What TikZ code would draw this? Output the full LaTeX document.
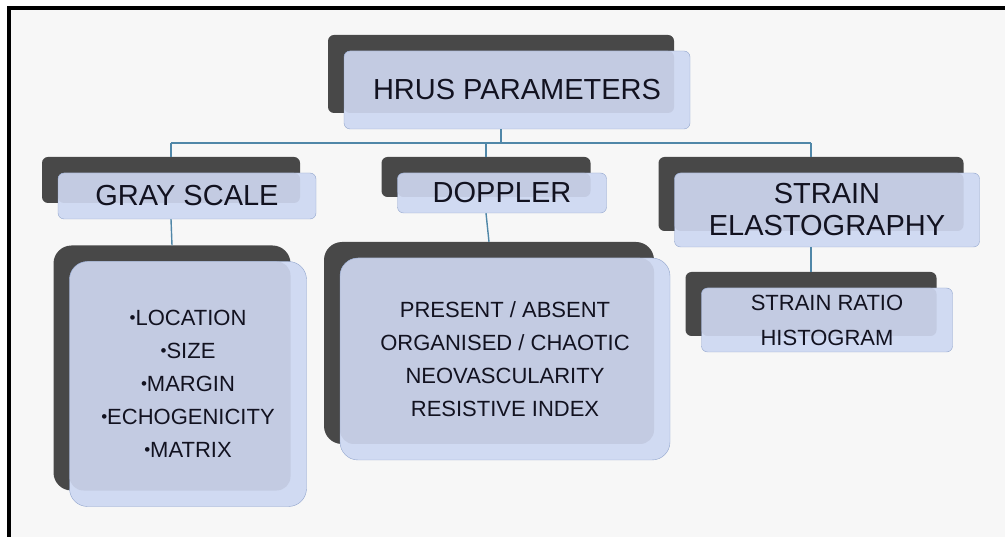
\documentclass[tikz,border=0pt]{standalone}
\usepackage{fontspec}
\setmainfont{Liberation Sans}
\usetikzlibrary{shadows}
\definecolor{boxfill}{RGB}{208, 218, 242}
\definecolor{boxinner}{RGB}{195, 203, 226}
\definecolor{boxline}{RGB}{145, 165, 205}
\definecolor{shadowgray}{RGB}{72, 72, 72}
\definecolor{linkblue}{RGB}{80, 135, 168}
\definecolor{pagegray}{RGB}{247, 247, 247}
\definecolor{textdark}{RGB}{18, 18, 32}
\newcommand{\smallbullet}{\raisebox{2pt}{\fontsize{17}{17}\selectfont•}}

\begin{document}
\begin{tikzpicture}[x=1pt, y=-1pt,
    parambox/.style={draw=boxline, fill=boxfill, rounded corners=6pt, text=textdark, align=center, inner sep=0pt,
      drop shadow={shadow xshift=-16pt, shadow yshift=16pt, fill=shadowgray, opacity=1},
      path picture={\fill[boxinner, rounded corners=6pt] (path picture bounding box.north west) rectangle ([xshift=-16pt, yshift=16pt]path picture bounding box.south east);}},
    headbox/.style={parambox, font=\fontsize{29}{32}\selectfont},
    listbox/.style={parambox, rounded corners=18pt, font=\fontsize{22}{33}\selectfont,
      path picture={\fill[boxinner, rounded corners=14pt] (path picture bounding box.north west) rectangle ([xshift=-16pt, yshift=16pt]path picture bounding box.south east);}},
    link/.style={draw=linkblue, line width=1.4pt}]
    \useasboundingbox (0, 0) rectangle (1005, 537);

    % Page and frame
    \fill[white] (0, 0) rectangle (1005, 537);
    \fill[pagegray] (9, 8) rectangle (1005, 537);
    \draw[line width=4pt] (9, 537) -- (9, 8) -- (1005, 8);

    % Top level
    \node[headbox, minimum width=346pt, minimum height=78pt] (hrus) at (517, 90) {HRUS PARAMETERS};

    % Second level
    \node[headbox, minimum width=258pt, minimum height=46pt] (gray) at (187, 196) {GRAY SCALE};
    \node[headbox, minimum width=209pt, minimum height=40pt] (dop) at (502, 193) {DOPPLER};
    \node[headbox, minimum width=305pt, minimum height=74pt] (strain) at (827, 210) {STRAIN\\ELASTOGRAPHY};

    % Lists
    \node[listbox, minimum width=237pt, minimum height=245pt] (grayl) at (188, 384) {\smallbullet LOCATION\\\smallbullet SIZE\\\smallbullet MARGIN\\\smallbullet ECHOGENICITY\\\smallbullet MATRIX};
    \node[listbox, minimum width=330pt, minimum height=202pt] (dopl) at (505, 359) {PRESENT / ABSENT\\ORGANISED / CHAOTIC\\NEOVASCULARITY\\RESISTIVE INDEX};
    \node[parambox, font=\fontsize{22}{35}\selectfont, minimum width=251pt, minimum height=64pt] (strl) at (827, 320) {STRAIN RATIO\\HISTOGRAM};

    % Connectors
    \coordinate (bus) at (0, 143);
    \draw[link] ([xshift=-16pt]hrus.south) -- ([xshift=-16pt]hrus.south |- bus);
    \draw[link] ([xshift=-16pt]gray.north |- bus) -- ([xshift=-16pt]strain.north |- bus);
    \draw[link] ([xshift=-16pt]gray.north |- bus) -- ([xshift=-16pt, yshift=16pt]gray.north);
    \draw[link] ([xshift=-16pt]dop.north |- bus) -- ([xshift=-16pt, yshift=16pt]dop.north);
    \draw[link] ([xshift=-16pt]strain.north |- bus) -- ([xshift=-16pt, yshift=16pt]strain.north);
    \draw[link] ([xshift=-16pt]gray.south) -- ([xshift=-16pt, yshift=16pt]grayl.north);
    \draw[link] ([xshift=-16pt]dop.south) -- ([xshift=-16pt, yshift=16pt]dopl.north);
    \draw[link] ([xshift=-16pt]strain.south) -- ([xshift=-16pt, yshift=16pt]strl.north);
\end{tikzpicture}
\end{document}
